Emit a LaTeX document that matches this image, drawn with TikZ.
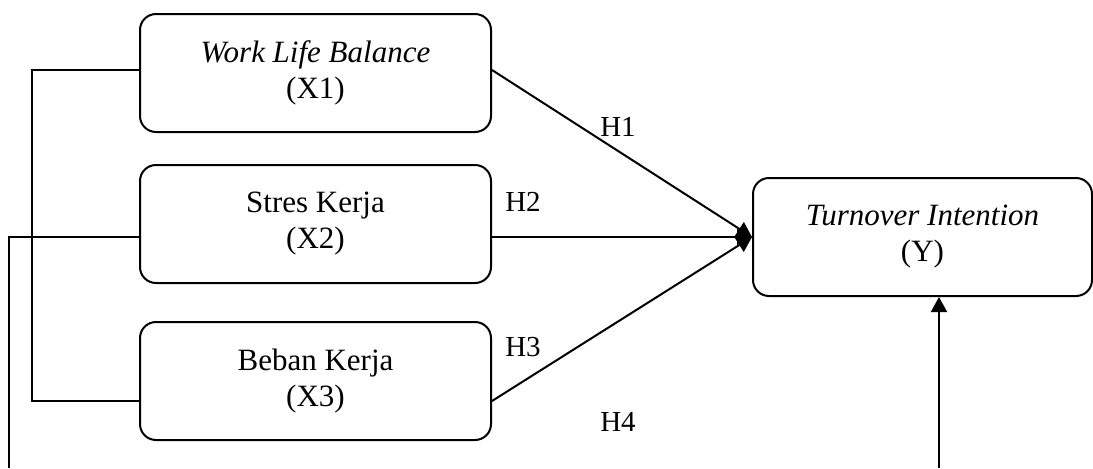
\documentclass[tikz,border=0pt]{standalone}
\usepackage{fontspec}
\setmainfont{Liberation Serif}
\usetikzlibrary{positioning,arrows.meta}

\begin{document}
\begin{tikzpicture}[
  x=0.5pt, y=-0.5pt,
  font=\fontsize{15.5}{18}\selectfont,
  var/.style={draw, line width=1pt, rounded corners=8pt, align=center, minimum width=175.5pt, minimum height=59pt, inner sep=2pt},
  hyp/.style={font=\fontsize{14.5}{17}\selectfont},
  arr/.style={-{Triangle[length=7.5pt,width=8pt]}, line width=1pt},
  link/.style={line width=1pt}
]
\useasboundingbox (0,0) rectangle (1093,468);
\node[var] (x1) at (315.5,73) {\textit{Work Life Balance}\\(X1)};
\node[var, below=15.5pt of x1] (x2) {Stres Kerja\\(X2)};
\node[var, below=18.5pt of x2] (x3) {Beban Kerja\\(X3)};
\node[var, minimum width=169.5pt] (y) at (922.5,237) {\textit{Turnover Intention}\\(Y)};
\coordinate (lb) at (9,468);
\coordinate (rb) at (939,468);
\node[hyp] (h1) at (618,127) {H1};
\node[hyp] (h2) at (523,202) {H2};
\node[hyp] (h3) at (523,347) {H3};
\node[hyp] (h4) at (618,422) {H4};
\draw[arr] ([yshift=1.5pt]x1.east) -- (y.west);
\draw[arr] (x2.east |- y.west) -- (y.west);
\draw[arr] ([yshift=-10pt]x3.east) -- (y.west);
\draw[arr] (rb) -- (rb |- y.south);
\draw[link] ([yshift=1.5pt]x1.west) -- ++(-107,0) |- ([yshift=-10pt]x3.west);
\draw[link] (x2.west |- y.west) -| (lb);
\end{tikzpicture}
\end{document}
